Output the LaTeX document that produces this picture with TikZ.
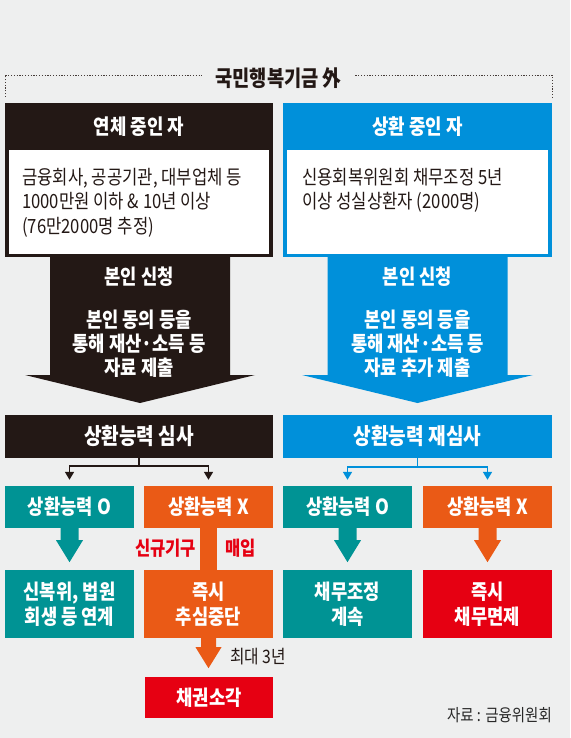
\documentclass[tikz,border=0pt]{standalone}
\usepackage{fontspec}
\setmainfont{Noto Sans CJK KR}[FakeStretch=0.85]
\usetikzlibrary{arrows.meta,calc}
\definecolor{bg}{RGB}{238,239,239}
\definecolor{dk}{RGB}{35,24,21}
\definecolor{bl}{RGB}{0,144,218}
\definecolor{tl}{RGB}{0,147,148}
\definecolor{og}{RGB}{234,90,22}
\definecolor{rd}{RGB}{230,0,18}
\definecolor{srcgray}{RGB}{40,40,40}
% fat arrow: color, node, shaft half width, head half width, shaft length, total length
\newcommand\myfatarrow[6]{%
  \fill[#1] ($(#2.south)+(-#3,0)$) -- ($(#2.south)+(-#3,#5)$) -- ($(#2.south)+(-#4,#5)$)
    -- ($(#2.south)+(0,#6)$) -- ($(#2.south)+(#4,#5)$) -- ($(#2.south)+(#3,#5)$)
    -- ($(#2.south)+(#3,0)$) -- cycle;}
\begin{document}
\begin{tikzpicture}[x=1pt,y=-1pt,
  panel/.style={rectangle,inner sep=0pt,minimum width=268pt,minimum height=154pt},
  whitebox/.style={rectangle,fill=white,inner sep=0pt,minimum width=260pt,minimum height=104pt},
  headtext/.style={text=white,inner sep=0pt,font=\fontsize{21}{24}\selectfont\bfseries},
  bodytext/.style={text=dk,inner sep=0pt,align=left,font=\fontsize{19.6}{24.5}\selectfont},
  arrtext/.style={text=white,inner sep=0pt,align=center,font=\fontsize{20.8}{24}\selectfont\bfseries},
  exambox/.style={rectangle,inner sep=0pt,minimum height=43pt,text=white,font=\fontsize{22.5}{24}\selectfont\bfseries},
  smallbox/.style={rectangle,inner sep=0pt,minimum width=129pt,text=white,align=center,font=\fontsize{20.8}{25}\selectfont\bfseries},
  conn/.style={line width=1.5pt,draw=#1},
  tip/.style={-{Triangle[width=9pt,length=8pt]},shorten >=6pt},
  dotline/.style={draw=dk!85,line width=0.9pt,dash pattern=on 1.2pt off 1.6pt},
  redlabel/.style={text=rd,inner sep=0pt,font=\fontsize{19.5}{22}\selectfont\bfseries}
]
\fill[bg] (0,0) rectangle (570,738);
\useasboundingbox (0,0) rectangle (570,738);

% title bracket
\draw[dotline] (5,97) -- (5,75) -- (552,75) -- (552,97);
\node[fill=bg,inner xsep=13pt,inner ysep=2pt,text=dk,font=\fontsize{22}{22}\selectfont\bfseries] (title) at (278.5,78) {국민행복기금 外};

% left panel
\node[panel,fill=dk] (lpanel) at (139,180) {};
\node[headtext] (lhead) at (139,127) {연체 중인 자};
\node[whitebox] (lbody) at (139,202) {};
\node[bodytext,anchor=west] (ltext) at (22,202.5) {금융회사, 공공기관, 대부업체 등\\1000만원 이하 \& 10년 이상\\(76만2000명 추정)};

% right panel
\node[panel,fill=bl,minimum width=269pt] (rpanel) at (417.5,180) {};
\node[headtext] (rhead) at (417.5,127) {상환 중인 자};
\node[whitebox,minimum width=261pt] (rbody) at (417.5,202) {};
\node[bodytext,anchor=west] (rtext) at (302,190.5) {신용회복위원회 채무조정 5년\\이상 성실상환자 (2000명)};

% big arrows
\fill[dk] (50,256) -- (230,256) -- (230,375) -- (255,375) -- (140,403) -- (25,375) -- (50,375) -- cycle;
\fill[bl] (327.5,256) -- (507.5,256) -- (507.5,375) -- (533,375) -- (417.5,403) -- (302,375) -- (327.5,375) -- cycle;
\node[arrtext] (lapply) at (139,277) {본인 신청};
\node[arrtext] (lsubmit) at (139,344) {본인 동의 등을\\통해 재산·소득 등\\자료 제출};
\node[arrtext] (rapply) at (417.5,277) {본인 신청};
\node[arrtext] (rsubmit) at (417.5,344) {본인 동의 등을\\통해 재산·소득 등\\자료 추가 제출};

% exam boxes
\node[exambox,fill=dk,minimum width=268pt] (lexam) at (139,436.5) {상환능력 심사};
\node[exambox,fill=bl,minimum width=269pt] (rexam) at (417.5,436.5) {상환능력 재심사};

% first row
\node[smallbox,fill=tl,minimum height=42pt] (lok) at (69.5,507) {상환능력 O};
\node[smallbox,fill=og,minimum height=42pt] (lno) at (208.5,507) {상환능력 X};
\node[smallbox,fill=tl,minimum height=42pt] (rok) at (347.5,507) {상환능력 O};
\node[smallbox,fill=og,minimum height=42pt] (rno) at (487.5,507) {상환능력 X};

% second row
\node[smallbox,fill=tl,minimum height=68pt] (lres) at (69.5,604) {신복위, 법원\\회생 등 연계};
\node[smallbox,fill=og,minimum height=68pt] (lstop) at (208.5,604) {즉시\\추심중단};
\node[smallbox,fill=tl,minimum height=68pt] (rcont) at (347.5,604) {채무조정\\계속};
\node[smallbox,fill=rd,minimum height=68pt] (rfree) at (487.5,604) {즉시\\채무면제};

% bottom box
\node[smallbox,fill=rd,minimum width=128pt,minimum height=41pt] (burn) at (209,697.5) {채권소각};

% thin connectors
\coordinate (lj) at (lexam.south |- 0,466);
\coordinate (rj) at (rexam.south |- 0,467);
\draw[conn=dk] (lexam.south) -- (lj);
\draw[conn=dk,tip,dk] (lj) -| (lok.north);
\draw[conn=dk,tip,dk] (lj) -| (lno.north);
\draw[conn=bl] (rexam.south) -- (rj);
\draw[conn=bl,tip,bl] (rj) -| (rok.north);
\draw[conn=bl,tip,bl] (rj) -| (rno.north);

% fat arrows
\myfatarrow{tl}{lok}{9}{13.5}{12}{34}
\myfatarrow{tl}{rok}{9}{13.5}{12}{34}
\myfatarrow{og}{rno}{9}{13.5}{12}{34}
\fill[og] ($(lno.south)+(-8.5,0)$) rectangle ($(lstop.north)+(8.5,0)$);
\myfatarrow{og}{lstop}{7.5}{13}{9}{30}

% labels
\node[redlabel] (newbody) at (165.5,548) {신규기구};
\node[redlabel] (buy) at (240.5,548) {매입};
\node[text=dk,inner sep=0pt,font=\fontsize{18.5}{20}\selectfont] (max3) at (258,657) {최대 3년};
\node[text=srcgray,inner sep=0pt,anchor=east,font=\fontsize{17}{18}\selectfont] (source) at (552,715) {자료 : 금융위원회};
\end{tikzpicture}
\end{document}
